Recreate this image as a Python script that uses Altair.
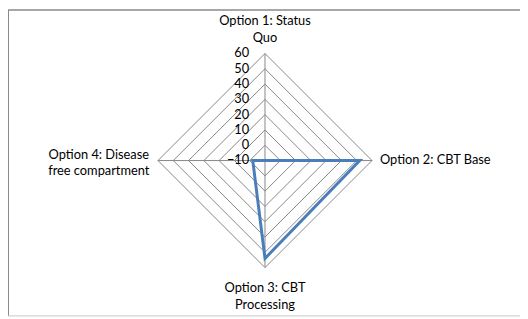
import math
import altair as alt
import pandas as pd

# ---- data ----
categories = ["Option 1: Status Quo", "Option 2: CBT Base",
              "Option 3: CBT Processing", "Option 4: Disease free compartment"]
label_text = ["Option 1: Status\nQuo", "Option 2: CBT Base",
              "Option 3: CBT\nProcessing", "Option 4: Disease\nfree compartment"]
values = [-10, 52, 54, -2]
tick_values = [-10, 0, 10, 20, 30, 40, 50, 60]

R_MIN = -10
W, H = 519, 310
FONT = "Lato"

n = len(categories)
angles = [i * 2 * math.pi / n for i in range(n)]

def pol(r, a):
    return r * math.sin(a), r * math.cos(a)

# data polygon
rows = []
for i in range(n + 1):
    k = i % n
    x, y = pol(values[k] - R_MIN, angles[k])
    rows.append({"cat": categories[k], "value": values[k], "x": x, "y": y, "o": i})
series_df = pd.DataFrame(rows)

# grid rings
ring_rows = []
for t in tick_values[1:]:
    for i in range(n + 1):
        k = i % n
        x, y = pol(t - R_MIN, angles[k])
        ring_rows.append({"level": t, "x": x, "y": y, "o": i})
ring_df = pd.DataFrame(ring_rows)

# spokes
rmax = tick_values[-1] - R_MIN
spoke_df = pd.DataFrame([{"x": 0, "y": 0, "x2": pol(rmax, a)[0], "y2": pol(rmax, a)[1]} for a in angles])

# tick labels
tick_df = pd.DataFrame({"t": tick_values, "y": [t - R_MIN for t in tick_values], "x": [0] * len(tick_values)})

xs = alt.Scale(domain=[-168.1, 166.8], nice=False, zero=False)
ys = alt.Scale(domain=[-101.6, 98.4], nice=False, zero=False)
X = lambda f="x": alt.X(f"{f}:Q", scale=xs, axis=None)
Y = lambda f="y": alt.Y(f"{f}:Q", scale=ys, axis=None)

rings = alt.Chart(ring_df).mark_line(color="#868686", strokeWidth=1).encode(
    x=X(), y=Y(), detail="level:N", order="o:Q")
spokes = alt.Chart(spoke_df).mark_rule(color="#868686", strokeWidth=1).encode(
    x=X(), y=Y(), x2="x2:Q", y2="y2:Q")
ticks = alt.Chart(tick_df).mark_text(align="right", baseline="middle", dx=-16,
                                     font=FONT, fontSize=13, color="#000").encode(
    x=X(), y=Y(), text="t:Q")
line = alt.Chart(series_df).mark_line(color="#4A7EBB", strokeWidth=3).encode(
    x=X(), y=Y(), order="o:Q")

# category labels
lab_layers = []
offsets = [  # (align, baseline, dx, dy)
    ("center", "top", 0, -39),
    ("left", "middle", 8, 0),
    ("center", "top", 0, 15),
    ("center", "middle", -60, -6),
]
for k in range(n):
    x, y = pol(rmax, angles[k])
    df = pd.DataFrame({"x": [x], "y": [y], "label": [label_text[k]]})
    al, bl, dx, dy = offsets[k]
    lab_layers.append(alt.Chart(df).mark_text(
        align=al, baseline=bl, dx=dx, dy=dy, lineBreak="\n",
        lineHeight=17, font=FONT, fontSize=13, color="#000").encode(
        x=X(), y=Y(), text="label:N"))

border_df = pd.DataFrame({"a": [0]})
border = alt.layer(
    alt.Chart(border_df).mark_rule(color="#8a8a8a", strokeWidth=2).encode(
        x=alt.value(0), y=alt.value(0), y2=alt.value(H)),
    alt.Chart(border_df).mark_rule(color="#8a8a8a", strokeWidth=1.5).encode(
        x=alt.value(0), x2=alt.value(W + 20), y=alt.value(0)),
    alt.Chart(border_df).mark_rule(color="#c8c8c8", strokeWidth=1).encode(
        x=alt.value(0), x2=alt.value(W + 20), y=alt.value(H)),
)

chart = alt.layer(rings, spokes, ticks, line, *lab_layers, border).properties(
    width=W, height=H, padding=0, autosize="none"
).configure_view(stroke=None)

chart.save("out.html", embed_options={"renderer": "svg", "actions": False})
